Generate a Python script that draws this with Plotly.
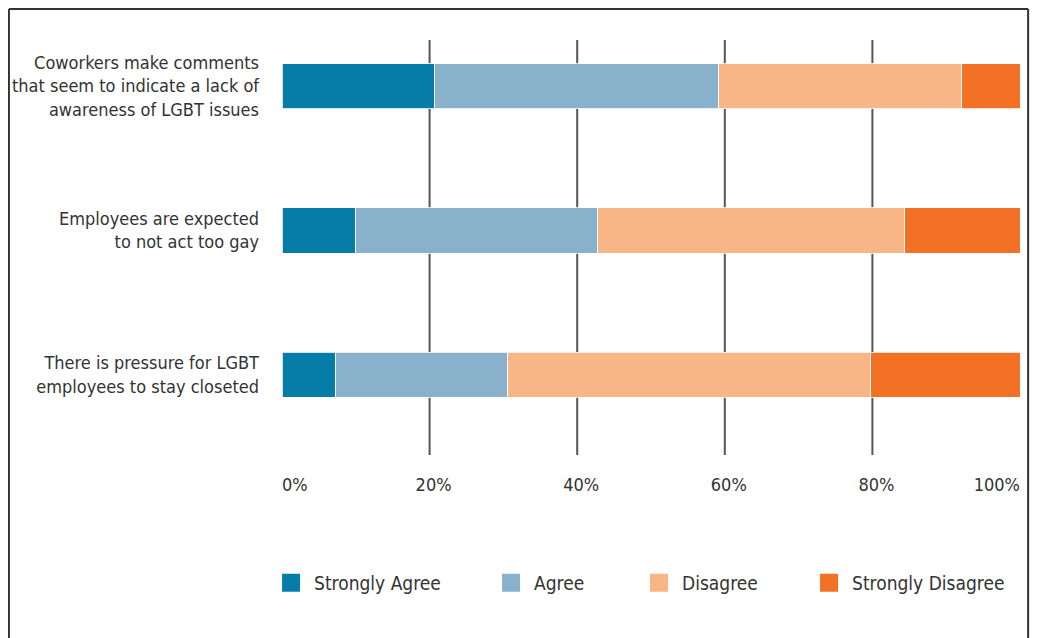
import plotly.graph_objects as go

statements = [
    "Coworkers make comments<br>that seem to indicate a lack of<br>awareness of LGBT issues",
    "Employees are expected<br>to not act too gay",
    "There is pressure for LGBT<br>employees to stay closeted",
]
series_names = ["Strongly Agree", "Agree", "Disagree", "Strongly Disagree"]
strongly_agree = [20.7, 10.0, 7.3]
agree = [38.5, 32.8, 23.3]
disagree = [32.9, 41.6, 49.2]
strongly_disagree = [7.9, 15.6, 20.2]
mid_tick_values = [20, 40, 60, 80]
mid_tick_labels = ["20%", "40%", "60%", "80%"]
start_tick_value, start_tick_label = 0, "0%"
end_tick_value, end_tick_label = 100, "100%"
grid_values = [20, 40, 60, 80]

colors = ["#067DA9", "#8AB1CB", "#F8B586", "#F37124"]
legend_ids = ["legend", "legend2", "legend3", "legend4"]
legend_x = [-0.0189, 0.2792, 0.4797, 0.7101]
FONT = "DejaVu Sans Condensed, DejaVu Sans, sans-serif"

fig = go.Figure()
for name, vals, col, lid in zip(series_names,
                                [strongly_agree, agree, disagree, strongly_disagree],
                                colors, legend_ids):
    fig.add_trace(go.Bar(
        y=statements, x=vals, orientation="h", name=name,
        marker=dict(color=col, line=dict(color="rgba(255,255,255,0.8)", width=1)),
        width=0.3125, showlegend=False, hoverinfo="x+name",
    ))
    fig.add_trace(go.Scatter(
        x=[None], y=[None], mode="markers", name=name, legend=lid,
        marker=dict(symbol="square", size=16, color=col, line=dict(color=col, width=2)),
        showlegend=True,
    ))

# empty traces so the end-label axes are drawn
for ax in ["x2", "x3"]:
    fig.add_trace(go.Scatter(x=[None], y=[None], xaxis=ax, yaxis="y", mode="markers",
                             showlegend=False, hoverinfo="skip"))

for g in grid_values:
    fig.add_shape(type="line", xref="x", yref="paper", x0=g, x1=g, y0=0, y1=1,
                  line=dict(color="#555555", width=2), layer="below")

# outer frame (left, top, right)
frame_col = "#333333"
fx0, fx1, fy0, fy1 = -0.370, 1.011, -0.47, 1.0747
fig.add_shape(type="line", xref="paper", yref="paper", x0=fx0, x1=fx0, y0=fy0, y1=fy1,
              line=dict(color=frame_col, width=2))
fig.add_shape(type="line", xref="paper", yref="paper", x0=fx0, x1=fx1, y0=fy1, y1=fy1,
              line=dict(color=frame_col, width=2))
fig.add_shape(type="line", xref="paper", yref="paper", x0=fx1, x1=fx1, y0=fy0, y1=fy1,
              line=dict(color=frame_col, width=2))

legend_common = dict(orientation="h", xanchor="left", y=-0.308, yanchor="middle",
                     font=dict(size=19, color="#333333"), itemsizing="trace",
                     itemwidth=36, bgcolor="rgba(0,0,0,0)")

axis_common = dict(range=[0, 100], showgrid=False, zeroline=False, showline=False,
                   ticks="", tickfont=dict(size=18, color="#333333"),
                   ticklabelstandoff=17, automargin=False, fixedrange=True)

fig.update_layout(
    width=1030, height=630,
    margin=dict(l=274, r=18, t=32, b=183, autoexpand=False),
    paper_bgcolor="white", plot_bgcolor="white",
    barmode="stack",
    font=dict(family=FONT, color="#333333"),
    xaxis=dict(tickvals=mid_tick_values, ticktext=mid_tick_labels,
               ticklabelshift=4, **axis_common),
    xaxis2=dict(overlaying="x", anchor="y", side="bottom",
                tickvals=[start_tick_value], ticktext=[start_tick_label],
                ticklabelposition="outside right", **axis_common),
    xaxis3=dict(overlaying="x", anchor="y", side="bottom",
                tickvals=[end_tick_value], ticktext=[end_tick_label],
                ticklabelposition="outside left", ticklabeloverflow="allow",
                **axis_common),
    yaxis=dict(autorange=False, range=[2.556, -0.32], showgrid=False,
               zeroline=False, showline=False, ticks="",
               tickfont=dict(size=18, color="#333333"), ticklabelstandoff=22,
               automargin=False, fixedrange=True),
)
for lid, lx in zip(legend_ids, legend_x):
    fig.update_layout({lid: dict(x=lx, **legend_common)})

fig.write_html("out.html")
